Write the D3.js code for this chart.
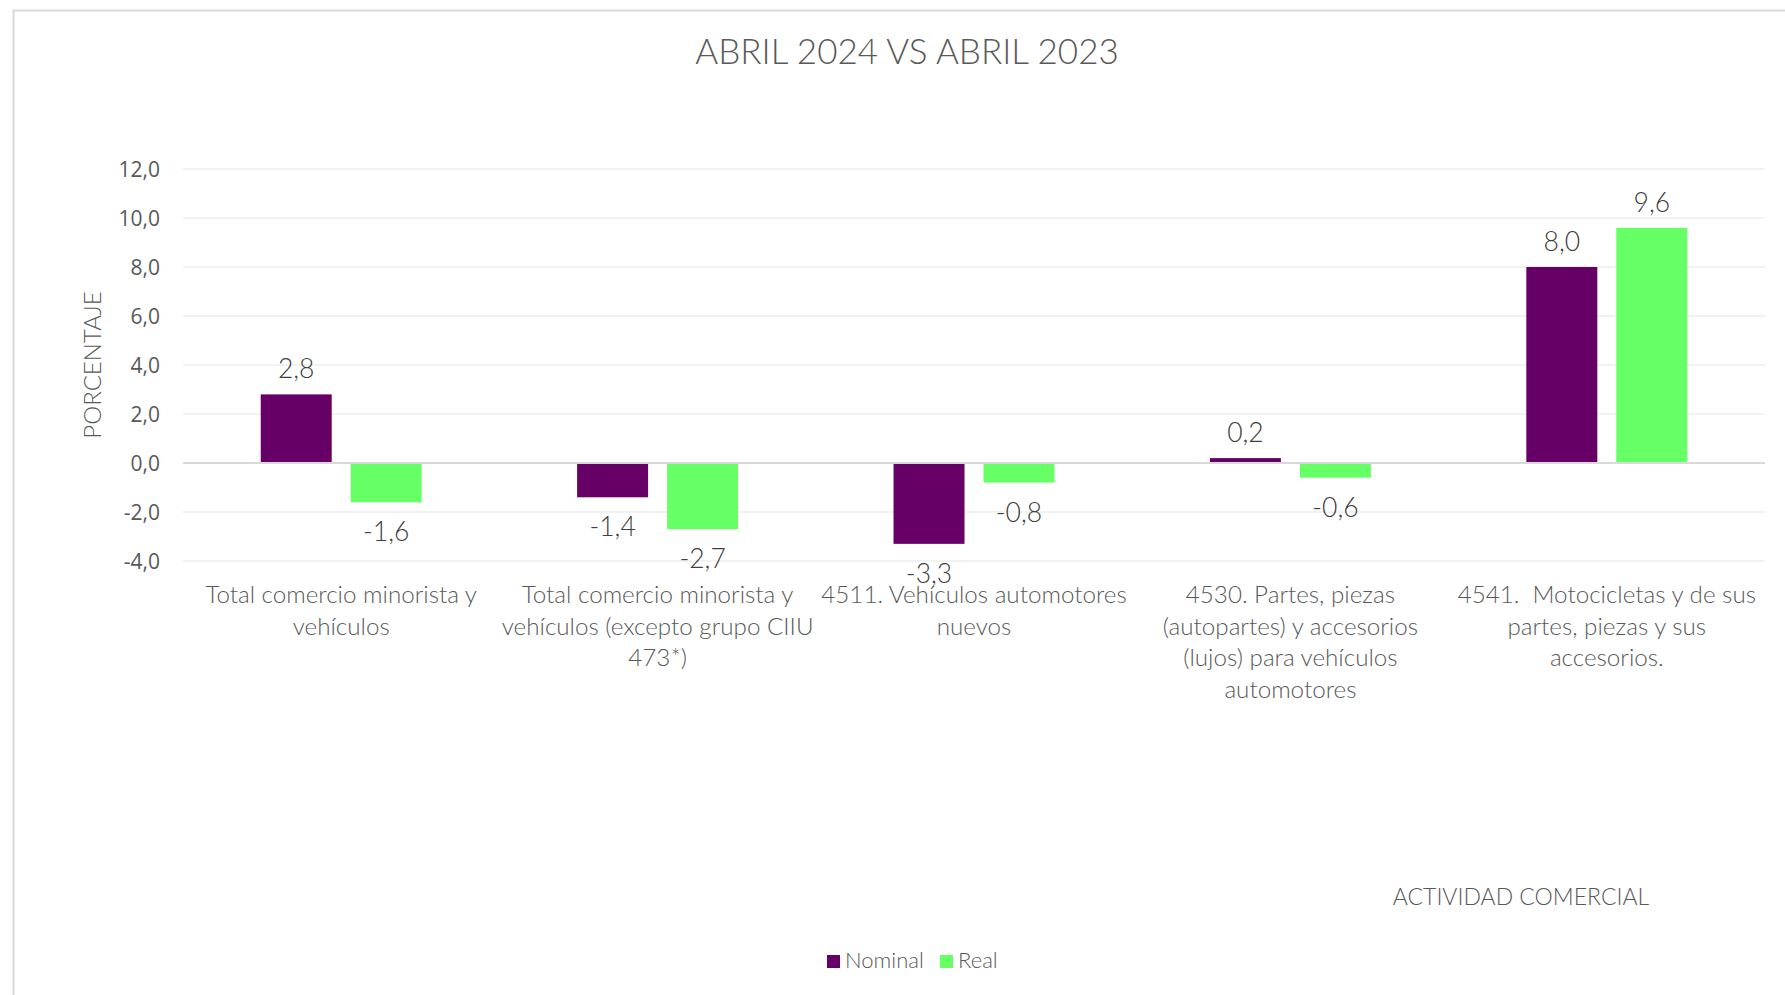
<!DOCTYPE html>
<html><head><meta charset="utf-8">
<script src="https://cdn.jsdelivr.net/npm/d3@7"></script>
<style>
html,body{margin:0;padding:0;background:#fff;overflow:hidden;}
svg{display:block;}
text{white-space:pre;}
</style></head>
<body>
<svg id="chart" width="1785" height="995"></svg>
<script>
const categories = [
  "Total comercio minorista y\nvehículos",
  "Total comercio minorista y\nvehículos (excepto grupo CIIU\n473*)",
  "4511. Vehículos automotores\nnuevos",
  "4530. Partes, piezas\n(autopartes) y accesorios\n(lujos) para vehículos\nautomotores",
  "4541.  Motocicletas y de sus\npartes, piezas y sus\naccesorios."
];
const seriesNames = ["Nominal", "Real"];
const nominal = [2.8, -1.4, -3.3, 0.2, 8.0];
const real = [-1.6, -2.7, -0.8, -0.6, 9.6];
const yTicks = [-4, -2, 0, 2, 4, 6, 8, 10, 12];
const colors = ["#660066", "#66ff66"];
const titleText = "ABRIL 2024 VS ABRIL 2023";
const yTitle = "PORCENTAJE";
const xTitle = "ACTIVIDAD COMERCIAL";

const svg = d3.select("#chart");
const fmt = v => d3.format(".1f")(v).replace(".", ",").replace("\u2212", "-");

// chart frame
svg.append("rect").attr("x", 13.5).attr("y", 10.5).attr("width", 1900).attr("height", 1100)
  .attr("fill", "none").attr("stroke", "#d9d9d9").attr("stroke-width", 2);

const x0 = d3.scaleBand().domain(d3.range(categories.length)).range([183, 1765]).paddingInner(0).paddingOuter(0);
const x1 = d3.scaleBand().domain(seriesNames).range([0, x0.bandwidth()]).paddingInner(0.211).paddingOuter(0.864);
const y = d3.scaleLinear().domain([-4, 12]).range([561, 169]);

// gridlines
svg.append("g").selectAll("line").data(yTicks.filter(t => t !== 0)).join("line")
  .attr("x1", 183).attr("x2", 1765).attr("y1", d => y(d)).attr("y2", d => y(d))
  .attr("stroke", "#eeeeee").attr("stroke-width", 1.3);

// y axis labels
const yAxis = d3.axisLeft(y).tickValues(yTicks).tickFormat(fmt).tickSize(0).tickPadding(0);
const ya = svg.append("g").attr("transform", "translate(160,0)").call(yAxis);
ya.select(".domain").remove();
ya.selectAll("text").attr("font-family", "Open Sans, sans-serif").attr("font-size", 21)
  .attr("fill", "#595959").attr("dy", "0.35em");

// bars
const data = categories.map((c, i) => ({i, vals: [nominal[i], real[i]]}));
const groups = svg.append("g").selectAll("g").data(data).join("g")
  .attr("transform", d => `translate(${x0(d.i)},0)`);
groups.selectAll("rect").data(d => d.vals.map((v, k) => ({v, k}))).join("rect")
  .attr("x", d => x1(seriesNames[d.k])).attr("width", x1.bandwidth())
  .attr("y", d => y(Math.max(0, d.v))).attr("height", d => Math.abs(y(d.v) - y(0)))
  .attr("fill", d => colors[d.k]);

// zero line
svg.append("line").attr("x1", 183).attr("x2", 1765).attr("y1", y(0)).attr("y2", y(0))
  .attr("stroke", "#d9d9d9").attr("stroke-width", 2);

// data labels
groups.selectAll("text.lbl").data(d => d.vals.map((v, k) => ({v, k}))).join("text")
  .attr("class", "lbl")
  .attr("x", d => x1(seriesNames[d.k]) + x1.bandwidth() / 2)
  .attr("y", d => d.v >= 0 ? y(d.v) - 16 : y(d.v) + 39)
  .attr("text-anchor", "middle").attr("font-family", "Lato, sans-serif").attr("font-weight", 300)
  .attr("font-size", 26.5).attr("fill", "#404040").text(d => fmt(d.v));

// category labels
const cl = svg.append("g").selectAll("text").data(categories).join("text")
  .attr("text-anchor", "middle").attr("font-family", "Lato, sans-serif").attr("font-weight", 300)
  .attr("font-size", 24.2).attr("fill", "#595959")
  .attr("transform", (d, i) => `translate(${x0(i) + x0.bandwidth() / 2},603)`);
cl.selectAll("tspan").data(d => d.split("\n")).join("tspan")
  .attr("x", 0).attr("y", (d, j) => j * 31.5).text(d => d);

// title
svg.append("text").attr("x", 907).attr("y", 64).attr("text-anchor", "middle")
  .attr("font-family", "Lato, sans-serif").attr("font-weight", 300).attr("font-size", 35)
  .attr("fill", "#595959").text(titleText);

// y title
svg.append("text").attr("transform", "translate(101,365) rotate(-90)").attr("text-anchor", "middle")
  .attr("font-family", "Lato, sans-serif").attr("font-weight", 300).attr("font-size", 24)
  .attr("fill", "#595959").text(yTitle);

// x title
svg.append("text").attr("x", 1521).attr("y", 905).attr("text-anchor", "middle")
  .attr("font-family", "Lato, sans-serif").attr("font-weight", 300).attr("font-size", 23)
  .attr("fill", "#595959").text(xTitle);

// legend
const leg = svg.append("g");
const legX = [827, 940];
seriesNames.forEach((s, k) => {
  leg.append("rect").attr("x", legX[k]).attr("y", 955).attr("width", 13).attr("height", 13).attr("fill", colors[k]);
  leg.append("text").attr("x", legX[k] + 18).attr("y", 968).attr("font-family", "Lato, sans-serif")
    .attr("font-weight", 300).attr("font-size", 22).attr("fill", "#595959").text(s);
});
</script>
</body></html>
